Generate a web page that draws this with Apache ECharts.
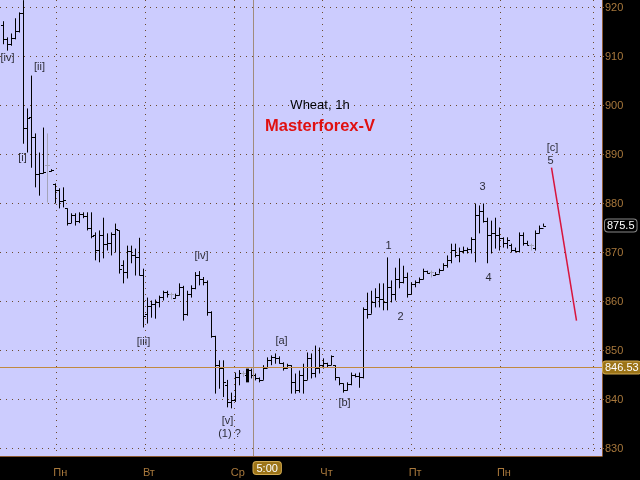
<!DOCTYPE html>
<html><head><meta charset="utf-8">
<script src="https://cdn.jsdelivr.net/npm/echarts@6/dist/echarts.min.js"></script>
<style>html,body{margin:0;padding:0;background:#000}#chart{width:640px;height:480px}</style>
</head><body><div id="chart"></div>
<script>
// Hourly OHLC bars of Wheat (index = hour bar number)
const opens = [
 916.5, 913.5, 912.5, 913.8, 915.2, 918.8, 895.5, 897.6, 893.5, 886.1,
 886.3, 887.8, 886.7, 884, 882.7, 880.6, 879, 876, 877.6, 876.5,
 877.8, 877.5, 875, 873.5, 870.5, 873.5, 871.8, 872, 873.8, 874.5,
 867.5, 866, 870.4, 869.5, 869, 865.5, 857.5, 859, 859.5, 860,
 861, 862, 861.5, 860.8, 861.4, 863, 857.5, 861.5, 862.8, 865.5,
 864.5, 864, 857.8, 853, 847, 846.5, 843, 839.5, 840, 844.5,
 845.5, 845, 846, 845, 844.3, 844, 846.5, 848, 848.6, 848.5,
 847.5, 846.5, 847, 843.5, 842, 845, 844, 848.5, 845.5, 846.5,
 847, 847.5, 847, 847, 844.5, 843.3, 842, 843.2, 845, 844.8,
 844.5, 858.5, 857.5, 860, 861, 860.5, 860, 863, 861.5, 864.5,
 864, 865, 861.5, 863.5, 864, 864.5, 866.2, 866, 865.5, 865.7,
 866.5, 867.5, 868.5, 870.5, 869.5, 870.3, 870.5, 870.8, 872.8, 877.7,
 878.5, 876.5, 873.5, 874, 873.5, 873, 872, 871.5, 870.5, 870.3,
 873.5, 872, 871.6, 871, 874, 875
];
const highs = [
 917.2, 913.9, 914.7, 917.8, 919.0, 921.5, 899.4, 906.1, 894.3, 890.4,
 895.5, 894.3, 887, 884.1, 883.1, 883.3, 879, 878, 878, 878.2,
 878.2, 878.2, 878.2, 874.1, 874.5, 877.1, 873.9, 874.1, 875.9, 874.5,
 868.4, 871.4, 871.4, 870.8, 873, 866.7, 860.8, 860.2, 860.4, 861.2,
 862.2, 862.2, 861.8, 861.6, 863.7, 863.2, 862.2, 863.3, 866, 866.2,
 865, 864.3, 858, 853, 848, 848, 844, 841.4, 845.5, 846,
 845.8, 846.3, 846.3, 845.3, 844.5, 847, 848.6, 849, 849.4, 848.8,
 847.6, 847.3, 847, 845.3, 845.9, 847.3, 849.6, 849.4, 851, 850.6,
 848.4, 847.5, 849, 847, 844.5, 843.3, 843.5, 845.5, 845.3, 845.5,
 858.8, 861.8, 862.2, 862.7, 863.7, 863.7, 869, 864.3, 866.9, 868.8,
 867.3, 865.9, 863.9, 864.3, 864.9, 866.7, 866.3, 866.3, 866, 866.7,
 867.8, 869.4, 871.8, 871.8, 871, 871.2, 871, 873.1, 880, 879.6,
 880, 877.1, 876.5, 877.1, 875.1, 873.1, 873.1, 871.8, 871, 874.1,
 874.1, 872.4, 871.8, 874.5, 875.5, 875.9
];
const lows = [
 912.5, 911.2, 912.2, 913.5, 914.9, 892.2, 890.4, 887.3, 883.3, 881.6,
 886.1, 880.2, 886.5, 880, 879, 879.2, 875.5, 876, 875.5, 876,
 877, 874.5, 872.9, 868.4, 868, 868.8, 870.4, 869.4, 870, 865.7,
 863.7, 864.7, 867.8, 865.3, 865.3, 854.7, 855.5, 856.7, 856.5, 858.8,
 860.2, 860.8, 860.4, 860.6, 861.2, 856.1, 857.1, 860.8, 862.5, 863.3,
 863.3, 857.1, 852.6, 841.2, 842.2, 840.5, 838.4, 838.2, 839.5, 842.9,
 844.6, 843.5, 844.3, 843.9, 843.5, 844, 846.5, 847, 847.3, 847.3,
 845.9, 846.3, 841.2, 841.2, 841.4, 841.2, 844, 844.3, 844.5, 845.3,
 846.3, 846.5, 847, 843.9, 842.9, 841.4, 841.8, 842.9, 844.5, 842.4,
 844.3, 856.5, 857.5, 858.8, 858.8, 858.2, 858.2, 859.8, 860.2, 862.7,
 863.7, 860.8, 861.5, 862.9, 863.7, 864.5, 865.7, 864.9, 865.3, 865.7,
 866.3, 866.9, 867.8, 869, 868, 869.8, 869.8, 869.8, 868, 873.9,
 876.1, 867.8, 869.8, 870.8, 870.4, 871, 870.8, 870, 870, 870,
 871.4, 871.4, 870.4, 870.4, 873.9, 875.3
];
const closes = [
 913.5, 912.5, 913.8, 915.2, 918.8, 895.5, 897.5, 893.5, 886.1, 886.3,
 886.5, 887.8, 886.8, 882.7, 880.6, 880.8, 876, 877.6, 876.5, 877.8,
 877.5, 875, 873.3, 870.5, 873.5, 871.8, 872, 873.8, 874.7, 866.7,
 866, 870.4, 869.5, 869, 865.5, 857, 859, 859.5, 860, 861,
 862, 861.5, 861.5, 861.4, 863, 857.5, 861.5, 862.8, 865.5, 864.5,
 864, 857.8, 853, 847, 846.5, 843.5, 839.5, 840, 844.5, 845.5,
 845.5, 846, 845, 844.3, 844, 846.5, 848, 848.6, 848.5, 847.5,
 846.5, 847, 843.5, 842, 845, 844, 848.5, 845.5, 846.5, 847,
 847.5, 847, 848.8, 844.5, 843.3, 842, 843.2, 845, 844.8, 844.5,
 858.5, 857.5, 860, 861, 860.5, 860, 863, 861.5, 864.5, 864,
 865, 861.5, 863.5, 864, 864.5, 866.3, 865.8, 866, 865.7, 866.5,
 867.5, 868.5, 870.5, 869.5, 870.3, 870.5, 870.8, 872.8, 877.7, 878.5,
 876.5, 873.5, 874, 873.5, 873, 872, 872.5, 870.5, 870.3, 873.5,
 872, 871.6, 871.6, 874, 875, 875.5
];

// Axis ticks
const priceTicks = [830, 840, 850, 860, 870, 880, 890, 900, 910, 920];
const dayLabels = ['Пн', 'Вт', 'Ср', 'Чт', 'Пт', 'Пн'];
const dayStarts = [13.2, 35.35, 57.6, 79.75, 101.9, 124.1, 147.5];

// Wave annotations (bar index, price)
const waveText = ['[iv]', '[ii]', '[i]', '[iii]', '[iv]', '[v]', '(1) ?', '[a]', '[b]', '1', '2', '3', '4', '[c]', '5'];
const waveX    = [1.0, 9, 4.75, 35, 49.5, 56, 56.5, 69.5, 85.25, 96.25, 99.25, 119.75, 121.25, 137.25, 136.75];
const waveY    = [909.8, 907.8, 889.2, 851.8, 869.2, 835.7, 832.9, 852.0, 839.2, 871.4, 856.9, 883.3, 864.9, 891.4, 888.6];

// Projection line (bar index, price)
const projX = [137, 143.25];
const projY = [887.3, 856.1];

const lastPrice = 875.5;
const cursorPrice = 846.53;
const cursorBar = 61;
const cursorHour = 62.5;
const cursorTime = '5:00';

const FONT = 'Liberation Sans';
const brown = '#8c5a32';
const gridBrown = '#6b4a2e';
const labelBrown = '#a8783c';

const ohlc = opens.map((o, i) => [i, o, highs[i], lows[i], closes[i]]);
const labelPos = dayStarts.slice(0, dayLabels.length).map(d => d + 1);

const chart = echarts.init(document.getElementById('chart'), null, {renderer: 'canvas'});
chart.setOption({
  animation: false,
  backgroundColor: '#000',
  title: [
    {text: 'Wheat, 1h', left: 'center', top: 99, padding: 0,
     textStyle: {color: '#000', fontSize: 13, fontWeight: 'normal', fontFamily: FONT}},
    {text: 'Masterforex-V', left: 'center', top: 118, padding: 0,
     textStyle: {color: '#e01010', fontSize: 16.5, fontWeight: 'bold', fontFamily: FONT}}
  ],
  grid: {left: 0, right: 38, top: 0, bottom: 24, show: true, backgroundColor: '#ccccfe', borderWidth: 0},
  xAxis: {
    type: 'value', min: -0.875, max: 149.625,
    axisLine: {show: true, onZero: false, lineStyle: {color: brown, width: 1}},
    axisTick: {show: false, customValues: dayStarts},
    splitLine: {show: true, lineStyle: {color: gridBrown, type: [1, 5], width: 1}},
    axisLabel: {
      customValues: labelPos, margin: 11, color: labelBrown, fontSize: 11, fontFamily: FONT,
      formatter: v => { const k = labelPos.findIndex(p => Math.abs(p - v) < 1e-6); return k >= 0 ? dayLabels[k] : ''; }
    }
  },
  yAxis: {
    type: 'value', position: 'right', min: 828.47, max: 921.53,
    axisLine: {show: true, onZero: false, lineStyle: {color: brown, width: 1}},
    axisTick: {show: true, customValues: priceTicks, length: 2, lineStyle: {color: brown}},
    splitLine: {show: true, lineStyle: {color: gridBrown, type: [1, 5], width: 1}},
    axisLabel: {customValues: priceTicks, margin: 3, color: labelBrown, fontSize: 11, fontFamily: FONT}
  },
  series: [
    {
      type: 'custom', name: 'Wheat', data: ohlc, z: 4, silent: true,
      encode: {x: 0, y: [1, 2, 3, 4]},
      renderItem: (params, api) => {
        const i = api.value(0);
        const o = api.value(1), c = api.value(4);
        const ph = api.coord([i, api.value(2)]);
        const pl = api.coord([i, api.value(3)]);
        const po = api.coord([i, o]);
        const pc = api.coord([i, c]);
        const doji = o === c;
        const stroke = doji ? '#a4a4b8' : '#000';
        const xx = Math.floor(ph[0]) + 0.5;
        const yo = Math.round(po[1]) + 0.5, yc = Math.round(pc[1]) + 0.5;
        const lw = i === cursorBar ? 3 : 1;
        return {type: 'group', children: [
          {type: 'line', shape: {x1: xx, y1: ph[1], x2: xx, y2: pl[1]}, style: {stroke, lineWidth: lw}},
          {type: 'line', shape: {x1: xx - 2.5, y1: yo, x2: xx, y2: yo}, style: {stroke, lineWidth: 1}},
          {type: 'line', shape: {x1: xx, y1: yc, x2: xx + 2.5, y2: yc}, style: {stroke, lineWidth: 1}}
        ]};
      }
    },
    {
      type: 'line', name: 'projection', data: projX.map((x, i) => [x, projY[i]]),
      symbol: 'none', silent: true, z: 3,
      lineStyle: {color: '#d8143c', width: 1.5},
      markLine: {
        silent: true, symbol: 'none', animation: false,
        data: [
          {yAxis: cursorPrice, lineStyle: {color: '#c08a40', width: 1, type: 'solid'},
           label: {show: true, position: 'end', distance: 1, formatter: String(cursorPrice),
                   backgroundColor: '#9c7418', borderColor: '#d0a850', borderWidth: 1, borderRadius: 3,
                   color: '#fff', padding: [1, 2, 0, 2], fontSize: 11, fontFamily: FONT}},
          {yAxis: lastPrice, lineStyle: {color: 'transparent', width: 1},
           label: {show: true, position: 'end', distance: 3, formatter: String(lastPrice),
                   backgroundColor: '#000', borderColor: '#888', borderWidth: 1, borderRadius: 3,
                   color: '#fff', padding: [1, 2, 0, 2], fontSize: 11, fontFamily: FONT}},
          {xAxis: cursorHour, lineStyle: {color: '#a08c7c', width: 1, type: 'solid'},
           label: {show: true, position: 'start', distance: 6, formatter: cursorTime, align: 'left',
                   backgroundColor: '#9c7418', borderColor: '#d0a850', borderWidth: 1, borderRadius: 3,
                   color: '#fff', padding: [1, 3, 0, 3], fontSize: 11, fontFamily: FONT}}
        ]
      }
    },
    {
      type: 'scatter', name: 'waves', silent: true, z: 6,
      data: waveX.map((x, i) => ({value: [x, waveY[i]], name: waveText[i]})),
      symbolSize: 1, itemStyle: {color: 'transparent'},
      label: {show: true, position: 'inside', formatter: p => p.name, color: '#000', fontSize: 11, fontFamily: FONT}
    }
  ]
});
</script></body></html>
